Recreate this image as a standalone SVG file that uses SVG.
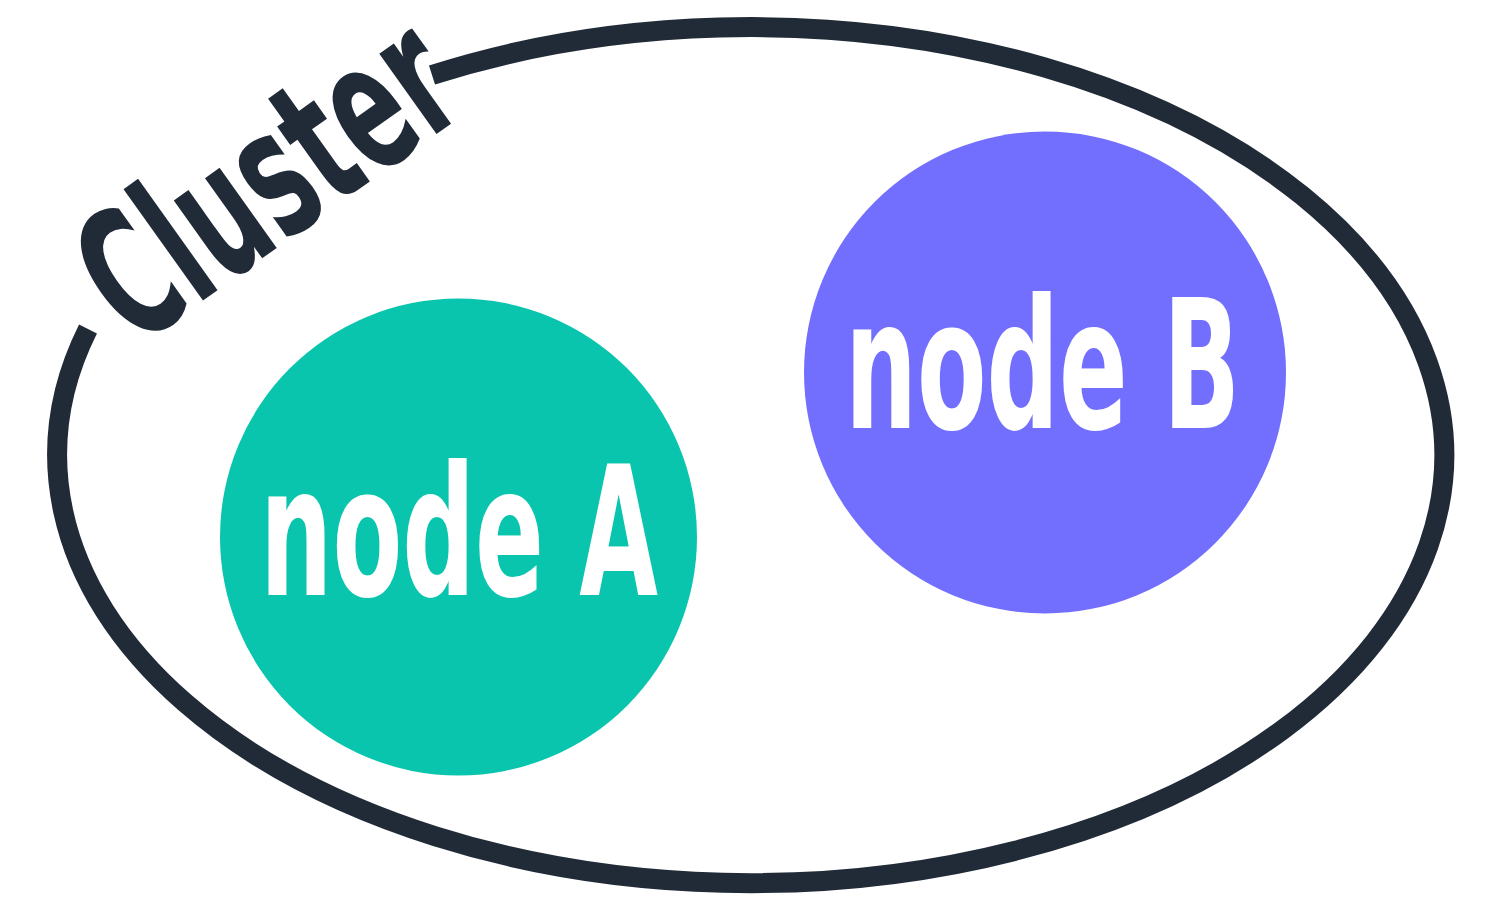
<svg xmlns="http://www.w3.org/2000/svg" width="1500" height="900" viewBox="0 0 1500 900">
  <style>
    .lbl { font-family: "DejaVu Sans Condensed", "DejaVu Sans", "Liberation Sans", sans-serif; font-weight: bold; font-stretch: condensed; font-size: 180px; }
    .node-text { fill: #ffffff; }
    .cluster-text { fill: #212b38; }
  </style>
  <rect width="1500" height="900" fill="#ffffff"/>
  <g id="cluster">
    <path d="M 88 329 A 693.5 428 0 1 0 432 75" fill="none" stroke="#212b38" stroke-width="20" stroke-linecap="butt"/>
    <text class="lbl cluster-text" x="0" y="0" textLength="412" lengthAdjust="spacingAndGlyphs" transform="translate(135 349) rotate(-35.5)">Cluster</text>
  </g>
  <g id="connectors"></g>
  <g id="nodeA">
    <circle cx="458.5" cy="537" r="238.5" fill="#0ac5ad"/>
    <text class="lbl node-text" x="260" y="595" textLength="398" lengthAdjust="spacingAndGlyphs">node A</text>
  </g>
  <g id="nodeB">
    <circle cx="1045" cy="372.5" r="241" fill="#736ffe"/>
    <text class="lbl node-text" x="845" y="428" textLength="395" lengthAdjust="spacingAndGlyphs">node B</text>
  </g>
</svg>
